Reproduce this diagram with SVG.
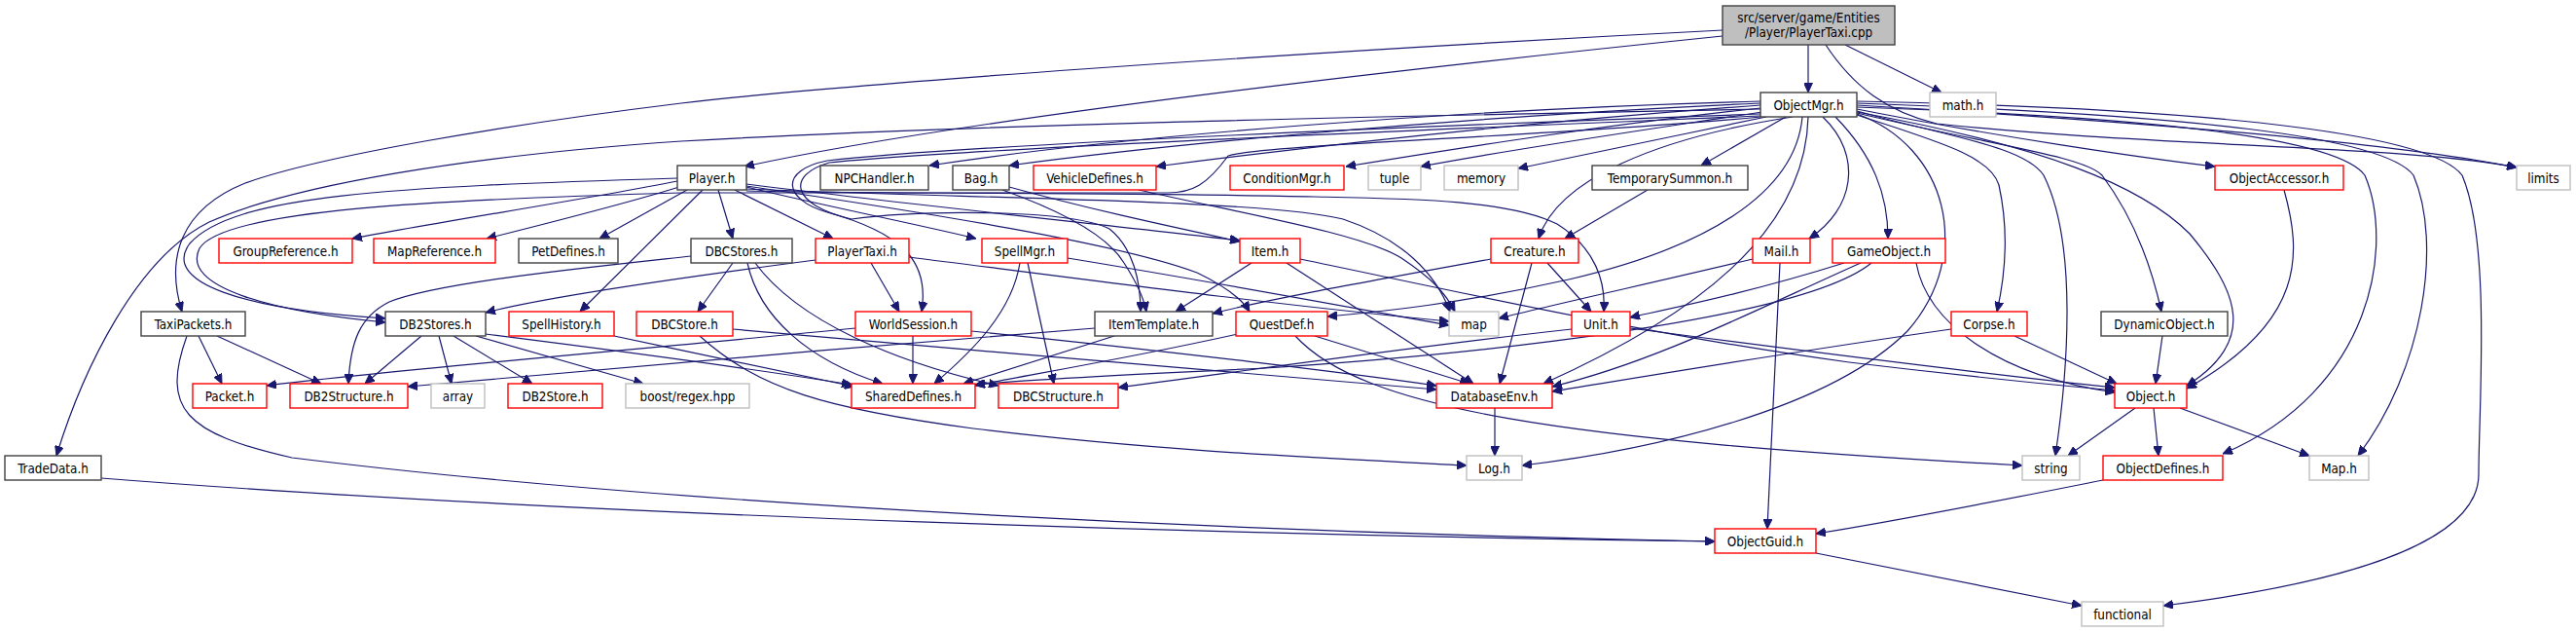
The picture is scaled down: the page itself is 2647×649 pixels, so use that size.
<svg xmlns="http://www.w3.org/2000/svg" width="2647" height="649" viewBox="0 0 2647 649">
<style>
.e{fill:none;stroke:#191970;stroke-width:1.2;marker-end:url(#a)}
.n rect{fill:#fff;stroke-width:1.4}
.b rect{stroke:#404040}
.r rect{stroke:#ff0000}
.g rect{stroke:#bfbfbf}
.root rect{fill:#bfbfbf;stroke:#404040}
text{font-family:"DejaVu Sans Condensed","DejaVu Sans",sans-serif;font-stretch:condensed;font-size:13.33px;text-anchor:middle;fill:#000}
</style>
<defs>
<marker id="a" markerWidth="10" markerHeight="9" refX="10" refY="4.5" orient="auto" markerUnits="userSpaceOnUse">
<path d="M0,0 L10,4.5 L0,9 z" fill="#191970" stroke="#191970" stroke-width="1"/>
</marker>
</defs>
<rect width="2647" height="649" fill="#fff"/>
<g id="edges">
<path class="e" d="M1858,46 L1858,95"/>
<path class="e" d="M1896,46 L1995,95"/>
<path class="e" d="M1876,46 C1905,90 1940,115 1990,127 C2200,150 2480,150 2586,172"/>
<path class="e" d="M1770,37 C1450,70 1000,120 765,171"/>
<path class="e" d="M1770,31 C1300,55 850,88 700,106 C520,128 330,160 252,188 C185,215 170,265 187,320"/>
<path class="e" d="M1809,112 C1400,120 1000,128 700,145 C480,160 300,190 215,228 C140,265 85,380 58,468"/>
<path class="e" d="M1809,104 C1500,112 1150,140 955,170"/>
<path class="e" d="M1809,106 C1500,120 1200,148 1037,170"/>
<path class="e" d="M1809,108 C1560,126 1350,150 1188,171"/>
<path class="e" d="M1809,111 C1650,128 1500,152 1383,171"/>
<path class="e" d="M1811,115 C1700,132 1560,152 1460,171"/>
<path class="e" d="M1815,120 C1730,138 1640,156 1560,173"/>
<path class="e" d="M1835,120 L1748,170"/>
<path class="e" d="M1842,120 C1700,142 1600,185 1581,245"/>
<path class="e" d="M1873,120 C1915,160 1905,215 1859,245"/>
<path class="e" d="M1886,120 C1925,160 1940,200 1940,245"/>
<path class="e" d="M1852,120 C1845,200 1750,255 1612,287 C1500,312 1420,320 1364,325"/>
<path class="e" d="M1858,120 C1855,240 1740,325 1586,394"/>
<path class="e" d="M1908,117 C2000,150 2030,260 1960,340 C1880,420 1700,462 1564,478"/>
<path class="e" d="M1908,114 C2000,140 2080,150 2100,180 C2135,250 2125,380 2112,468"/>
<path class="e" d="M1908,118 C1990,145 2045,160 2054,190 C2065,240 2060,285 2052,320"/>
<path class="e" d="M1908,116 C2050,150 2140,160 2160,180 C2190,220 2210,270 2221,320"/>
<path class="e" d="M1908,115 C2100,150 2200,190 2250,240 C2300,300 2320,350 2247,396"/>
<path class="e" d="M1908,112 C2050,140 2200,162 2276,171"/>
<path class="e" d="M1908,108 C2200,125 2450,145 2586,172"/>
<path class="e" d="M1908,110 C2200,120 2400,140 2430,180 C2460,250 2440,400 2284,466"/>
<path class="e" d="M1908,106 C2250,118 2450,140 2480,180 C2510,250 2490,380 2423,468"/>
<path class="e" d="M1908,104 C2300,112 2500,140 2530,180 C2560,250 2547,420 2547,487 C2547,560 2400,600 2223,622"/>
<path class="e" d="M1809,117 C1500,128 1000,148 850,165 C800,175 805,205 850,218 C930,240 955,270 947,320"/>
<path class="e" d="M1809,119 C1500,132 1000,152 852,167 C808,180 812,210 875,225 C950,215 1100,215 1140,235 C1165,255 1172,290 1172,320"/>
<path class="e" d="M1809,120 C1600,140 1300,148 1262,160 C1240,190 1225,198 1200,198 L700,198 C450,205 230,215 205,255 C185,295 280,320 396,331"/>
<path class="e" d="M696,186 C600,205 450,228 362,245"/>
<path class="e" d="M698,192 C640,210 560,230 500,245"/>
<path class="e" d="M706,195 L616,245"/>
<path class="e" d="M722,195 L596,320"/>
<path class="e" d="M696,183 C400,192 240,200 195,250 C165,290 250,318 396,327"/>
<path class="e" d="M738,195 L753,245"/>
<path class="e" d="M755,195 L856,245"/>
<path class="e" d="M767,192 C850,212 950,232 1003,245"/>
<path class="e" d="M767,189 C950,212 1150,232 1274,247"/>
<path class="e" d="M767,191 C950,218 1150,250 1230,280 C1255,292 1275,305 1284,320"/>
<path class="e" d="M767,196 C900,199 1200,198 1350,202 C1450,204 1550,205 1600,230 C1640,255 1650,290 1648,320"/>
<path class="e" d="M767,194 C1000,204 1300,205 1380,225 C1440,245 1475,280 1490,320"/>
<path class="e" d="M1037,192 C1120,215 1200,232 1274,248"/>
<path class="e" d="M1030,195 C1100,220 1140,245 1155,270 C1168,290 1175,305 1178,320"/>
<path class="e" d="M1170,195 C1280,220 1400,240 1440,265 C1470,285 1485,300 1495,320"/>
<path class="e" d="M1693,195 L1608,245"/>
<path class="e" d="M753,270 L717,320"/>
<path class="e" d="M768,270 C780,325 830,370 907,394"/>
<path class="e" d="M776,270 C820,330 920,372 1026,396"/>
<path class="e" d="M710,263 C600,275 450,290 400,310 C370,325 360,350 358,394"/>
<path class="e" d="M838,267 C700,285 560,305 499,321"/>
<path class="e" d="M895,270 L924,320"/>
<path class="e" d="M934,264 C1100,285 1300,312 1489,330"/>
<path class="e" d="M1048,270 C1040,320 1000,360 960,394"/>
<path class="e" d="M1056,270 L1083,394"/>
<path class="e" d="M1097,265 C1250,290 1400,318 1489,334"/>
<path class="e" d="M1286,270 L1208,320"/>
<path class="e" d="M1322,270 L1514,394"/>
<path class="e" d="M1336,266 C1500,300 1700,345 1900,372 C2050,390 2120,396 2173,401"/>
<path class="e" d="M1532,266 C1400,290 1300,308 1246,322"/>
<path class="e" d="M1574,270 L1541,394"/>
<path class="e" d="M1590,270 L1635,320"/>
<path class="e" d="M1801,266 C1700,290 1600,312 1540,327"/>
<path class="e" d="M1829,270 L1816,543"/>
<path class="e" d="M1895,270 C1800,300 1720,316 1675,326"/>
<path class="e" d="M1912,270 C1800,320 1700,372 1595,397"/>
<path class="e" d="M1923,270 C1850,330 1500,365 1300,378 C1150,385 1050,390 1002,395"/>
<path class="e" d="M1969,270 C1980,330 2050,385 2173,403"/>
<path class="e" d="M204,345 L228,394"/>
<path class="e" d="M223,345 L330,394"/>
<path class="e" d="M192,345 C165,420 190,445 300,470 C700,520 1300,547 1762,556"/>
<path class="e" d="M433,345 L375,394"/>
<path class="e" d="M451,345 L464,394"/>
<path class="e" d="M466,345 L547,394"/>
<path class="e" d="M489,345 L661,394"/>
<path class="e" d="M499,343 C650,362 800,383 875,395"/>
<path class="e" d="M631,345 C720,364 820,385 878,397"/>
<path class="e" d="M719,345 C780,400 850,420 1000,440 C1200,465 1400,472 1507,478"/>
<path class="e" d="M753,338 C1000,360 1300,385 1476,400"/>
<path class="e" d="M938,345 L938,394"/>
<path class="e" d="M998,340 C1200,360 1400,385 1476,396"/>
<path class="e" d="M879,337 C700,355 400,380 274,396"/>
<path class="e" d="M1145,345 L990,394"/>
<path class="e" d="M1125,337 C900,355 600,380 419,397"/>
<path class="e" d="M1272,343 C1150,370 1050,386 1002,396"/>
<path class="e" d="M1351,345 L1510,394"/>
<path class="e" d="M1331,345 C1400,420 1600,452 2078,478"/>
<path class="e" d="M1615,338 C1450,356 1250,385 1149,398"/>
<path class="e" d="M1675,337 C1850,360 2050,385 2173,398"/>
<path class="e" d="M2070,345 L2175,394"/>
<path class="e" d="M2005,338 C1850,360 1700,385 1595,402"/>
<path class="e" d="M2222,345 L2215,394"/>
<path class="e" d="M2347,195 C2365,260 2370,330 2247,399"/>
<path class="e" d="M1536,419 L1536,468"/>
<path class="e" d="M2194,419 L2125,468"/>
<path class="e" d="M2213,419 L2218,468"/>
<path class="e" d="M2240,419 L2373,468"/>
<path class="e" d="M2161,493 C2050,515 1950,535 1866,548"/>
<path class="e" d="M1866,568 L2139,622"/>
<path class="e" d="M104,491 C600,530 1300,550 1762,556"/>
</g>
<g id="n_root" class="n root"><rect x="1770" y="6" width="177" height="40"/><text x="1858.5" y="23">src/server/game/Entities</text><text x="1858.5" y="38">/Player/PlayerTaxi.cpp</text></g>
<g id="n_ObjectMgr_h" class="n b"><rect x="1809" y="95" width="99" height="25"/><text x="1858.5" y="112.5">ObjectMgr.h</text></g>
<g id="n_math_h" class="n g"><rect x="1983" y="95" width="68" height="25"/><text x="2017" y="112.5">math.h</text></g>
<g id="n_Player_h" class="n b"><rect x="696" y="170" width="71" height="25"/><text x="731.5" y="187.5">Player.h</text></g>
<g id="n_NPCHandler_h" class="n b"><rect x="843" y="170" width="111" height="25"/><text x="898.5" y="187.5">NPCHandler.h</text></g>
<g id="n_Bag_h" class="n b"><rect x="979" y="170" width="58" height="25"/><text x="1008" y="187.5">Bag.h</text></g>
<g id="n_VehicleDefines_h" class="n r"><rect x="1062" y="170" width="126" height="25"/><text x="1125" y="187.5">VehicleDefines.h</text></g>
<g id="n_ConditionMgr_h" class="n r"><rect x="1264" y="170" width="117" height="25"/><text x="1322.5" y="187.5">ConditionMgr.h</text></g>
<g id="n_tuple" class="n g"><rect x="1406" y="170" width="54" height="25"/><text x="1433" y="187.5">tuple</text></g>
<g id="n_memory" class="n g"><rect x="1484" y="170" width="76" height="25"/><text x="1522" y="187.5">memory</text></g>
<g id="n_TemporarySummon_h" class="n b"><rect x="1636" y="170" width="160" height="25"/><text x="1716" y="187.5">TemporarySummon.h</text></g>
<g id="n_ObjectAccessor_h" class="n r"><rect x="2276" y="170" width="132" height="25"/><text x="2342" y="187.5">ObjectAccessor.h</text></g>
<g id="n_limits" class="n g"><rect x="2586" y="170" width="55" height="25"/><text x="2613.5" y="187.5">limits</text></g>
<g id="n_GroupReference_h" class="n r"><rect x="225" y="245" width="137" height="25"/><text x="293.5" y="262.5">GroupReference.h</text></g>
<g id="n_MapReference_h" class="n r"><rect x="384" y="245" width="125" height="25"/><text x="446.5" y="262.5">MapReference.h</text></g>
<g id="n_PetDefines_h" class="n b"><rect x="533" y="245" width="102" height="25"/><text x="584" y="262.5">PetDefines.h</text></g>
<g id="n_DBCStores_h" class="n b"><rect x="710" y="245" width="104" height="25"/><text x="762" y="262.5">DBCStores.h</text></g>
<g id="n_PlayerTaxi_h" class="n r"><rect x="838" y="245" width="96" height="25"/><text x="886" y="262.5">PlayerTaxi.h</text></g>
<g id="n_SpellMgr_h" class="n r"><rect x="1009" y="245" width="88" height="25"/><text x="1053" y="262.5">SpellMgr.h</text></g>
<g id="n_Item_h" class="n r"><rect x="1274" y="245" width="62" height="25"/><text x="1305" y="262.5">Item.h</text></g>
<g id="n_Creature_h" class="n r"><rect x="1532" y="245" width="90" height="25"/><text x="1577" y="262.5">Creature.h</text></g>
<g id="n_Mail_h" class="n r"><rect x="1801" y="245" width="59" height="25"/><text x="1830.5" y="262.5">Mail.h</text></g>
<g id="n_GameObject_h" class="n r"><rect x="1883" y="245" width="116" height="25"/><text x="1941" y="262.5">GameObject.h</text></g>
<g id="n_TaxiPackets_h" class="n b"><rect x="145" y="320" width="107" height="25"/><text x="198.5" y="337.5">TaxiPackets.h</text></g>
<g id="n_DB2Stores_h" class="n b"><rect x="396" y="320" width="103" height="25"/><text x="447.5" y="337.5">DB2Stores.h</text></g>
<g id="n_SpellHistory_h" class="n r"><rect x="523" y="320" width="108" height="25"/><text x="577" y="337.5">SpellHistory.h</text></g>
<g id="n_DBCStore_h" class="n r"><rect x="654" y="320" width="99" height="25"/><text x="703.5" y="337.5">DBCStore.h</text></g>
<g id="n_WorldSession_h" class="n r"><rect x="879" y="320" width="119" height="25"/><text x="938.5" y="337.5">WorldSession.h</text></g>
<g id="n_ItemTemplate_h" class="n b"><rect x="1125" y="320" width="121" height="25"/><text x="1185.5" y="337.5">ItemTemplate.h</text></g>
<g id="n_QuestDef_h" class="n r"><rect x="1270" y="320" width="94" height="25"/><text x="1317" y="337.5">QuestDef.h</text></g>
<g id="n_map" class="n g"><rect x="1489" y="320" width="51" height="25"/><text x="1514.5" y="337.5">map</text></g>
<g id="n_Unit_h" class="n r"><rect x="1615" y="320" width="60" height="25"/><text x="1645" y="337.5">Unit.h</text></g>
<g id="n_Corpse_h" class="n r"><rect x="2005" y="320" width="78" height="25"/><text x="2044" y="337.5">Corpse.h</text></g>
<g id="n_DynamicObject_h" class="n b"><rect x="2159" y="320" width="130" height="25"/><text x="2224" y="337.5">DynamicObject.h</text></g>
<g id="n_Packet_h" class="n r"><rect x="198" y="394" width="76" height="25"/><text x="236" y="411.5">Packet.h</text></g>
<g id="n_DB2Structure_h" class="n r"><rect x="298" y="394" width="121" height="25"/><text x="358.5" y="411.5">DB2Structure.h</text></g>
<g id="n_array" class="n g"><rect x="443" y="394" width="55" height="25"/><text x="470.5" y="411.5">array</text></g>
<g id="n_DB2Store_h" class="n r"><rect x="522" y="394" width="97" height="25"/><text x="570.5" y="411.5">DB2Store.h</text></g>
<g id="n_boost_regex_hpp" class="n g"><rect x="643" y="394" width="127" height="25"/><text x="706.5" y="411.5">boost/regex.hpp</text></g>
<g id="n_SharedDefines_h" class="n r"><rect x="875" y="394" width="127" height="25"/><text x="938.5" y="411.5">SharedDefines.h</text></g>
<g id="n_DBCStructure_h" class="n r"><rect x="1026" y="394" width="123" height="25"/><text x="1087.5" y="411.5">DBCStructure.h</text></g>
<g id="n_DatabaseEnv_h" class="n r"><rect x="1476" y="394" width="119" height="25"/><text x="1535.5" y="411.5">DatabaseEnv.h</text></g>
<g id="n_Object_h" class="n r"><rect x="2173" y="394" width="74" height="25"/><text x="2210" y="411.5">Object.h</text></g>
<g id="n_TradeData_h" class="n b"><rect x="5" y="468" width="99" height="25"/><text x="54.5" y="485.5">TradeData.h</text></g>
<g id="n_Log_h" class="n g"><rect x="1507" y="468" width="57" height="25"/><text x="1535.5" y="485.5">Log.h</text></g>
<g id="n_string" class="n g"><rect x="2078" y="468" width="59" height="25"/><text x="2107.5" y="485.5">string</text></g>
<g id="n_ObjectDefines_h" class="n r"><rect x="2161" y="468" width="123" height="25"/><text x="2222.5" y="485.5">ObjectDefines.h</text></g>
<g id="n_Map_h" class="n g"><rect x="2373" y="468" width="61" height="25"/><text x="2403.5" y="485.5">Map.h</text></g>
<g id="n_ObjectGuid_h" class="n r"><rect x="1762" y="543" width="104" height="25"/><text x="1814" y="560.5">ObjectGuid.h</text></g>
<g id="n_functional" class="n g"><rect x="2139" y="618" width="84" height="25"/><text x="2181" y="635.5">functional</text></g>
</svg>
